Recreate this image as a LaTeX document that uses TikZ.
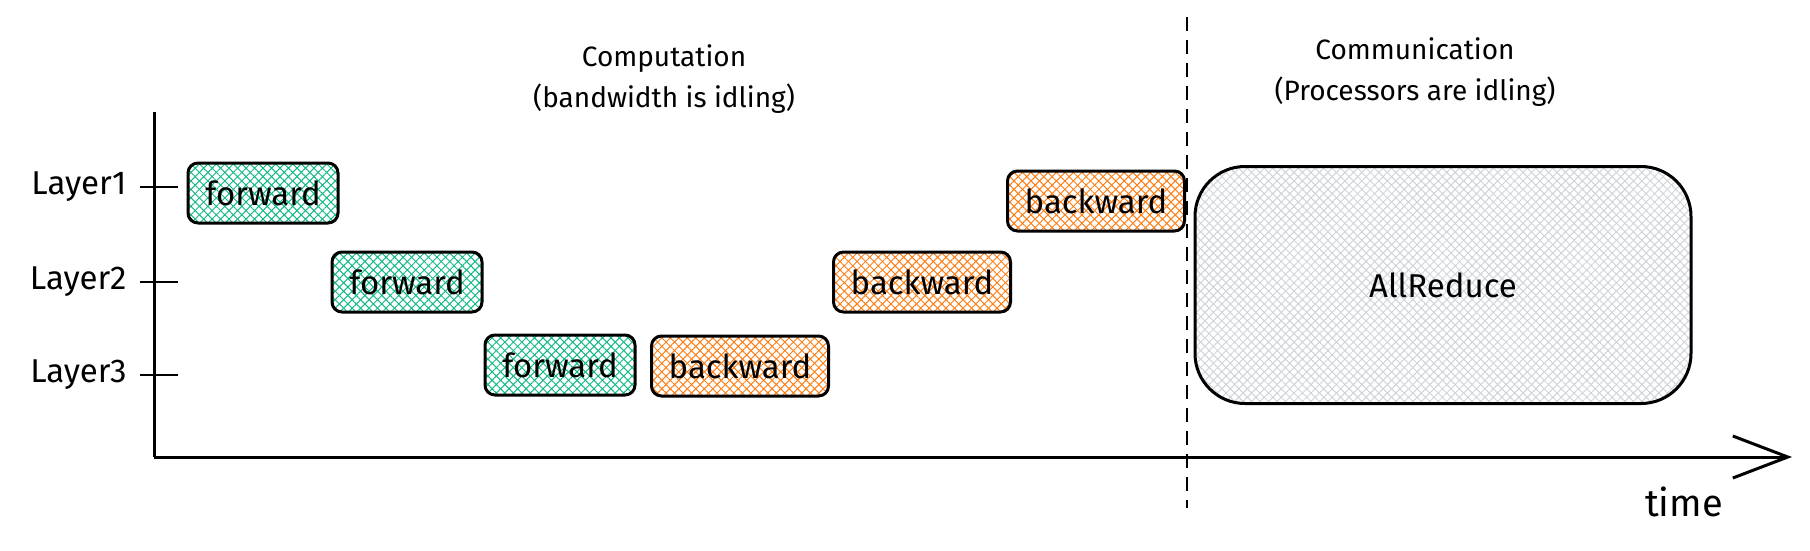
\documentclass[tikz,border=0pt]{standalone}
\usepackage{fontspec}
\setmainfont{Fira Sans}
\usetikzlibrary{arrows.meta,patterns.meta}

\definecolor{fwdgreen}{HTML}{12B886}
\definecolor{bwdorange}{HTML}{FD7E14}
\definecolor{commgray}{HTML}{CED4DA}

\tikzset{
  txt/.style={font=\fontsize{28}{41}\selectfont},
  bigtxt/.style={font=\fontsize{33}{40}\selectfont},
  hatch/.style={preaction={pattern={Lines[angle=45,distance=6pt,line width=1pt]},pattern color=#1},
    pattern={Lines[angle=-45,distance=6pt,line width=1pt]},pattern color=#1},
  blok/.style={draw,line width=3pt,rounded corners=10pt,minimum height=60pt,bigtxt},
  fwd/.style={blok,hatch=fwdgreen,minimum width=150pt},
  bwd/.style={blok,hatch=bwdorange,minimum width=177pt}
}

\begin{document}
\begin{tikzpicture}[x=1pt,y=-1pt]
\useasboundingbox (0,0) rectangle (1810,550);
% оси
\coordinate (top) at (154,112);
\coordinate (orig) at (154,457);
\coordinate (tend) at (1792,457);
\draw [line width=3pt] (top) -- (orig);
\draw [line width=3pt,-{Straight Barb[length=55pt,width=42pt]}] (orig) -- (tend);
% граница
\coordinate (sepA) at (1187,17);
\coordinate (sepB) at (1187,508);
\draw [line width=2.5pt,dash pattern=on 14pt off 9pt] (sepA) -- (sepB);
% слои
\node [bigtxt,anchor=east] (l1) at (130,187) {Layer1};
\node [bigtxt,anchor=east] (l2) at (130,282) {Layer2};
\node [bigtxt,anchor=east] (l3) at (130,375) {Layer3};
\foreach \y in {187,282,375}
  \draw [line width=2.5pt] (140,\y) -- (178,\y);
% блоки
\node [fwd] (f1) at (263,193) {forward};
\node [fwd] (f2) at (407,282) {forward};
\node [fwd] (f3) at (560,365) {forward};
\node [bwd] (b3) at (740,366) {backward};
\node [bwd] (b2) at (922,282) {backward};
\node [bwd] (b1) at (1096,201) {backward};
\node [blok,hatch=commgray,rounded corners=50pt,minimum width=496pt,minimum height=237pt] (ar) at (1443,285) {AllReduce};
% подписи
\node [txt,align=center] (comp) at (664,79) {Computation\\(bandwidth is idling)};
\node [txt,align=center] (comm) at (1415,72) {Communication\\(Processors are idling)};
\node [font=\fontsize{38}{40}\selectfont] (time) at (1684,502) {time};
\end{tikzpicture}
\end{document}
